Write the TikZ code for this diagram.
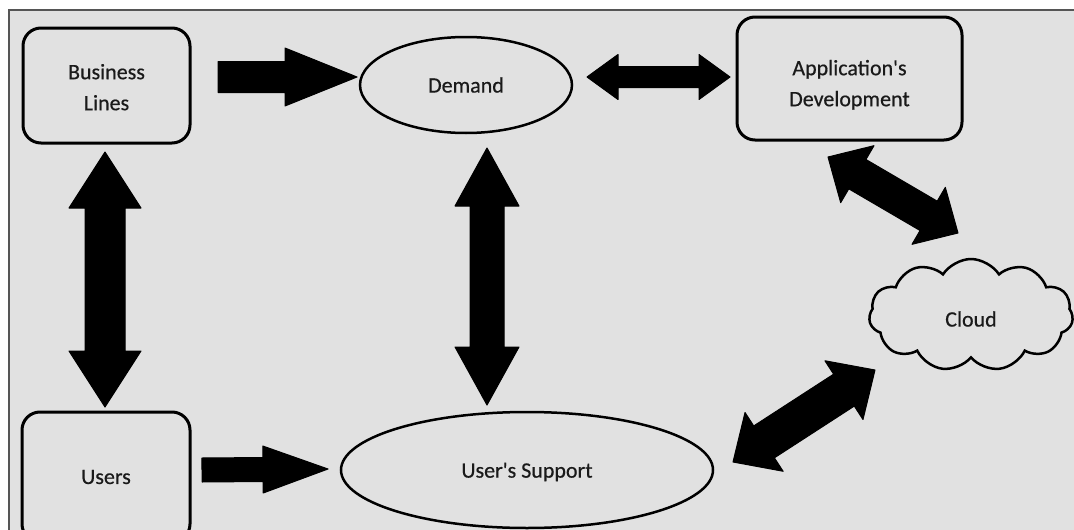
\documentclass[tikz,border=0pt]{standalone}
\usepackage{fontspec}
\setmainfont{Carlito}[FakeBold=0.5]
\usetikzlibrary{calc,shapes.geometric,shapes.symbols}
\definecolor{bg}{HTML}{E1E1E1}
\definecolor{framec}{HTML}{555555}
\definecolor{txt}{HTML}{1A1A1A}
% double fat arrow: #1 tip A, #2 tip B, #3 shaft half width, #4 head half width, #5 head length
\newcommand{\dblfat}[5]{%
  \path ($(#1)!#5!(#2)$) coordinate (dB1) ($(#2)!#5!(#1)$) coordinate (dB2);
  \filldraw[fatstyle] (#1) -- ($(dB1)!#4!90:(#2)$) -- ($(dB1)!#3!90:(#2)$)
    -- ($(dB2)!#3!-90:(#1)$) -- ($(dB2)!#4!-90:(#1)$) -- (#2)
    -- ($(dB2)!#4!90:(#1)$) -- ($(dB2)!#3!90:(#1)$)
    -- ($(dB1)!#3!-90:(#2)$) -- ($(dB1)!#4!-90:(#2)$) -- cycle;}
% single fat arrow: #1 tail, #2 tip
\newcommand{\sglfat}[5]{%
  \path ($(#2)!#5!(#1)$) coordinate (sB);
  \filldraw[fatstyle] ($(#1)!#3!90:(#2)$) -- ($(sB)!#3!-90:(#1)$) -- ($(sB)!#4!-90:(#1)$)
    -- (#2) -- ($(sB)!#4!90:(#1)$) -- ($(sB)!#3!90:(#1)$) -- ($(#1)!#3!-90:(#2)$) -- cycle;}
\newcommand{\lowered}[2]{\raisebox{#1}[\height][\depth]{#2}}
\newcommand{\twolines}[3]{\lowered{#1}{\begin{tabular}{@{}c@{}}#2\\#3\end{tabular}}}
\begin{document}
\begin{tikzpicture}[x=1pt,y=-1pt,
  fatstyle/.style={fill=black,draw=black,line width=1pt,line join=round},
  boxn/.style={draw=black,line width=3pt,rounded corners=18pt,align=center,
     text=txt,inner sep=0pt,font=\fontsize{22}{31}\selectfont},
  ell/.style={ellipse,draw=black,line width=2.5pt,inner sep=0pt,text=txt,
     font=\fontsize{22}{31}\selectfont},
  cloudn/.style={cloud,draw=black,line width=2.5pt,cloud puffs=11,cloud puff arc=115,
     aspect=1.8,inner sep=0pt,text=txt,font=\fontsize{22}{31}\selectfont}]
\useasboundingbox (0,0) rectangle (1074,530);
\fill[white] (0,0) rectangle (1074,530);
\clip (0,0) rectangle (1074,530);
\fill[bg] (9,10) rectangle (1080,540);
\draw[framec,line width=1.5pt] (9,540) -- (9,10) -- (1080,10);

% nodes
\node[boxn,minimum width=167pt,minimum height=115pt] (bl) at (106.5,85.5)
  {\twolines{-3pt}{Business}{Lines}};
\node[ell,minimum width=212pt,minimum height=96pt] (dem) at (466,85) {Demand};
\node[boxn,minimum width=225pt,minimum height=123pt] (app) at (849.5,78.5)
  {\twolines{-6pt}{Application\textquotesingle s}{Development}};
\node[cloudn,minimum width=204pt,minimum height=112pt] (cl) at (971,315) {\lowered{-4pt}{Cloud}};
\node[boxn,minimum width=168pt,minimum height=130pt] (us) at (106,477) {Users};
\node[ell,minimum width=372pt,minimum height=116pt] (sup) at (527,470) {\lowered{-2pt}{User\textquotesingle s Support}};

% connector end points
\coordinate (a1) at (218,77);  \coordinate (a2) at (357,77);
\coordinate (b1) at (587,77);  \coordinate (b2) at (730,77);
\coordinate (c1) at (105,152); \coordinate (c2) at (105,407);
\coordinate (d1) at (487,148); \coordinate (d2) at (487,405);
\coordinate (e1) at (202,470); \coordinate (e2) at (328,469);
\coordinate (f1) at (828,157); \coordinate (f2) at (958,233);
\coordinate (g1) at (875,370); \coordinate (g2) at (733,462);

% connectors
\sglfat{a1}{a2}{15.5pt}{29pt}{72pt}
\dblfat{b1}{b2}{10.5pt}{22.5pt}{31pt}
\dblfat{c1}{c2}{20pt}{36pt}{56pt}
\dblfat{d1}{d2}{17pt}{32pt}{58pt}
\sglfat{e1}{e2}{12pt}{23.5pt}{65pt}
\dblfat{f1}{f2}{17pt}{33pt}{34pt}
\dblfat{g1}{g2}{19pt}{35pt}{37pt}
\end{tikzpicture}
\end{document}
